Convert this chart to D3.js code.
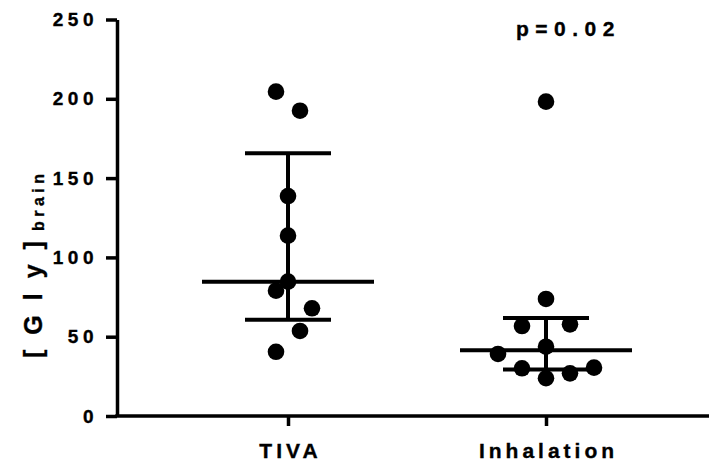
<!DOCTYPE html>
<html>
<head>
<meta charset="utf-8">
<script src="https://cdn.jsdelivr.net/npm/d3@7"></script>
<style>
  html, body { margin: 0; padding: 0; background: #fff; }
  svg { display: block; font-family: "Liberation Sans", Arial, sans-serif; font-weight: bold; }
  text { stroke: #000; stroke-width: 0.35px; }
</style>
</head>
<body>
<svg id="chart" width="710" height="462"></svg>
<script>
// Glycine concentration in brain, by anaesthesia group
const categories = ["TIVA", "Inhalation"];
const tivaValues = [204.5, 192.5, 138.7, 113.7, 84.7, 79.0, 67.9, 53.6, 40.5];
const inhalationValues = [198.2, 73.8, 56.7, 57.8, 43.7, 39.1, 30.1, 23.8, 26.9, 30.5];
// horizontal slot of each point inside its column, in half-dot steps
const tivaSlots = [-1, 1, 0, 0, 0, -1, 2, 1, -1];
const inhalationSlots = [0, 0, -2, 2, 0, -4, -2, 0, 2, 4];
const yTicks = [0, 50, 100, 150, 200, 250];
const yLabel = "[Gly]";
const yLabelSub = "brain";
const pLabel = "p=0.02";

const groups = [
  { name: categories[0], values: tivaValues, slots: tivaSlots },
  { name: categories[1], values: inhalationValues, slots: inhalationSlots }
];

// quartiles with the (n+1)p rule
function quantile(values, p) {
  const s = values.slice().sort((a, b) => a - b);
  const n = s.length;
  const h = (n + 1) * p;
  if (h <= 1) return s[0];
  if (h >= n) return s[n - 1];
  const lo = Math.floor(h);
  return s[lo - 1] + (h - lo) * (s[lo] - s[lo - 1]);
}
groups.forEach(g => {
  g.median = quantile(g.values, 0.5);
  g.q1 = quantile(g.values, 0.25);
  g.q3 = quantile(g.values, 0.75);
});

const svg = d3.select("#chart");
const plotLeft = 117, plotRight = 709, plotTop = 19.5, plotBottom = 416;

const y = d3.scaleLinear().domain([0, 250]).range([plotBottom, plotTop]);
const x = d3.scalePoint().domain(categories).range([159, 675]).padding(0.5);

const ink = "#000";
const slotStep = 12, dotR = 8.3, medianHalf = 86, capHalf = 43;

// y axis
const yAxis = svg.append("g")
  .attr("transform", `translate(${plotLeft},0)`)
  .call(d3.axisLeft(y).tickValues(yTicks).tickSize(11).tickSizeOuter(0).tickPadding(8));
yAxis.select(".domain").attr("stroke", ink).attr("stroke-width", 3.5);
yAxis.selectAll(".tick line").attr("stroke", ink).attr("stroke-width", 3.5);
yAxis.selectAll(".tick text")
  .attr("fill", ink)
  .style("font-size", "19px")
  .style("font-weight", "bold")
  .style("letter-spacing", "4.5px")
  .attr("x", -19);

// x axis
svg.append("line")
  .attr("x1", plotLeft - 1.75).attr("x2", plotRight)
  .attr("y1", plotBottom).attr("y2", plotBottom)
  .attr("stroke", ink).attr("stroke-width", 3.5);
const xAxis = svg.append("g")
  .attr("transform", `translate(0,${plotBottom})`)
  .call(d3.axisBottom(x).tickSize(10).tickSizeOuter(0).tickPadding(17));
xAxis.select(".domain").remove();
xAxis.selectAll(".tick line").attr("stroke", ink).attr("stroke-width", 3.5);
xAxis.selectAll(".tick text")
  .attr("fill", ink)
  .attr("dx", 2)
  .style("font-size", "21px")
  .style("font-weight", "bold")
  .style("letter-spacing", "4px");

// median with interquartile range
const summary = svg.append("g");
groups.forEach(g => {
  const cx = x(g.name);
  summary.append("line")
    .attr("x1", cx).attr("x2", cx)
    .attr("y1", y(g.q1)).attr("y2", y(g.q3))
    .attr("stroke", ink).attr("stroke-width", 4);
  [g.q1, g.q3].forEach(v => {
    summary.append("line")
      .attr("x1", cx - capHalf).attr("x2", cx + capHalf)
      .attr("y1", y(v)).attr("y2", y(v))
      .attr("stroke", ink).attr("stroke-width", 4);
  });
  summary.append("line")
    .attr("x1", cx - medianHalf).attr("x2", cx + medianHalf)
    .attr("y1", y(g.median)).attr("y2", y(g.median))
    .attr("stroke", ink).attr("stroke-width", 4);
});

// individual points
groups.forEach(g => {
  svg.append("g").selectAll("circle")
    .data(g.values.map((v, i) => ({ v, slot: g.slots[i] })))
    .join("circle")
    .attr("cx", d => x(g.name) + d.slot * slotStep)
    .attr("cy", d => y(d.v))
    .attr("r", dotR)
    .attr("fill", ink);
});

// significance label
svg.append("text")
  .attr("x", 516).attr("y", 36)
  .attr("fill", ink)
  .style("font-size", "21px")
  .style("letter-spacing", "6.5px")
  .text(pLabel);

// y axis title, read bottom to top
const title = svg.append("text")
  .attr("transform", "translate(42,358) rotate(-90)")
  .attr("text-anchor", "start")
  .attr("fill", ink)
  .style("font-size", "25px")
  .style("letter-spacing", "15px");
title.append("tspan").text(yLabel);
title.append("tspan")
  .attr("dx", -5)
  .attr("dy", 1.5)
  .style("font-size", "16px")
  .style("letter-spacing", "4.5px")
  .text(yLabelSub);
</script>
</body>
</html>
